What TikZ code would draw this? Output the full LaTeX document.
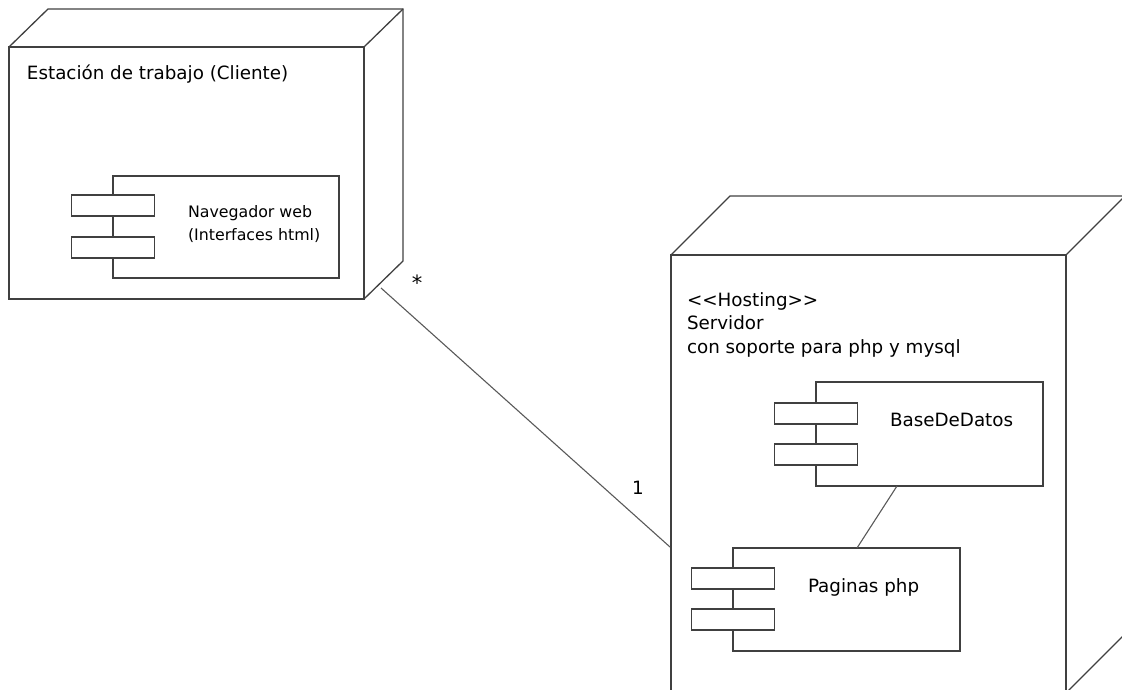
\documentclass[tikz,border=0pt]{standalone}
\usepackage{fontspec}
\setmainfont{DejaVu Sans}
\usetikzlibrary{calc}

\begin{document}
\begin{tikzpicture}[x=1pt, y=-1pt, line width=1.3pt,
  every node/.style={font=\fontsize{18.3}{23.5}\selectfont, inner sep=0pt, outer sep=0pt},
  face/.style={draw=black!75, anchor=north west},
  body/.style={draw=black!75, fill=white, anchor=north west, minimum width=227pt, minimum height=103pt},
  tab/.style={draw=black!75, fill=white, anchor=north west, minimum width=83pt, minimum height=21pt},
  link/.style={draw=black!65, line width=1.1pt}]
  \useasboundingbox (0,0) rectangle (1122,690);
  % client node
  \node[face, minimum width=355pt, minimum height=252pt] (cli) at (9,47) {};
  \draw[black!75] (cli.north west) -- ++(39,-38) -- ++(355,0) -- ++(0,252) -- (cli.south east);
  \draw[black!75] (cli.north east) -- ++(39,-38);
  \node[anchor=base west] (cliname) at (27,80) {Estación de trabajo (Cliente)};
  \node[body, minimum width=226pt, minimum height=102pt] (nav) at (113,176) {};
  \node[tab] (nav1) at ($(nav.north west)+(-41.5,19)$) {};
  \node[tab] (nav2) at ($(nav.north west)+(-41.5,61)$) {};
  \node[anchor=base west, align=left, font=\fontsize{15.8}{23}\selectfont] (navtxt) at (188,240) {Navegador web\\(Interfaces html)};
  % server node
  \node[face, minimum width=395pt, minimum height=438pt] (srv) at (671,255) {};
  \draw[black!75] (srv.north west) -- ++(59,-59) -- ++(395,0) -- ++(0,438) -- (srv.south east);
  \draw[black!75] (srv.north east) -- ++(59,-59);
  \node[anchor=base west, align=left] (srvtxt) at (687,353) {<{}<Hosting>{}>\\Servidor\\con soporte para php y mysql};
  \node[body, minimum height=104pt] (bd) at (816,382) {};
  \node[tab] (bd1) at ($(bd.north west)+(-41.5,21)$) {};
  \node[tab] (bd2) at ($(bd.north west)+(-41.5,62)$) {};
  \node[anchor=base west] (bdtxt) at (890,426) {BaseDeDatos};
  \node[body] (pag) at (733,548) {};
  \node[tab] (pag1) at ($(pag.north west)+(-41.5,20)$) {};
  \node[tab] (pag2) at ($(pag.north west)+(-41.5,61)$) {};
  \node[anchor=base west] (pagtxt) at (808,592) {Paginas php};
  % links
  \draw[link] ($(bd.south west)+(81,0)$) -- ($(pag.north west)+(124,0)$);
  \draw[link] ($(cli.south east)+(17,-11)$) -- ($(srv.north west)+(-1,292)$);
  \node[anchor=base, font=\fontsize{21}{23}\selectfont] (many) at (417,290) {*};
  \node[anchor=base] (one) at (638,494) {1};
\end{tikzpicture}
\end{document}
